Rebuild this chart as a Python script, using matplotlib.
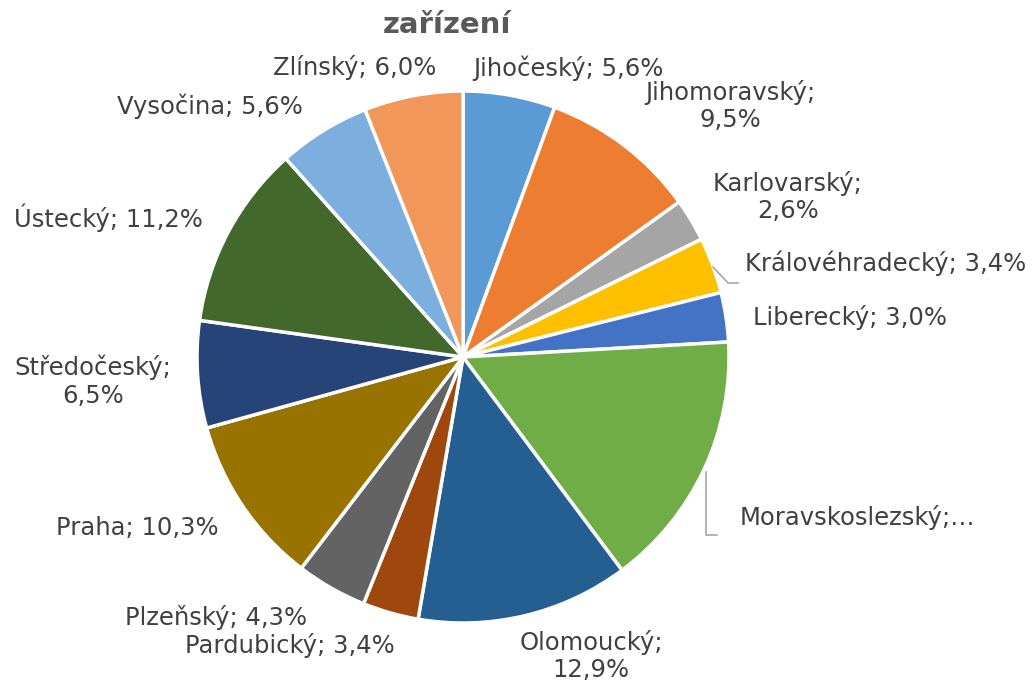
import matplotlib
matplotlib.use("Agg")
import matplotlib.pyplot as plt

regions = ["Jihočeský", "Jihomoravský", "Karlovarský", "Královéhradecký", "Liberecký",
           "Moravskoslezský", "Olomoucký", "Pardubický", "Plzeňský", "Praha",
           "Středočeský", "Ústecký", "Vysočina", "Zlínský"]
shares = [5.6, 9.5, 2.6, 3.4, 3.0, 15.7, 12.9, 3.4, 4.3, 10.3, 6.5, 11.2, 5.6, 6.0]
label_texts = ["Jihočeský; 5,6%", "Jihomoravský;\n9,5%", "Karlovarský;\n2,6%",
               "Královéhradecký; 3,4%", "Liberecký; 3,0%", "Moravskoslezský;…",
               "Olomoucký;\n12,9%", "Pardubický; 3,4%", "Plzeňský; 4,3%",
               "Praha; 10,3%", "Středočeský;\n6,5%", "Ústecký; 11,2%",
               "Vysočina; 5,6%", "Zlínský; 6,0%"]
colors = ["#5B9BD5", "#ED7D31", "#A5A5A5", "#FFC000", "#4472C4", "#70AD47",
          "#255E91", "#9E480E", "#636363", "#997300", "#264478", "#43682B",
          "#7CAFDD", "#F1975A"]
title = "zařízení"

W, H = 1033, 687
# label centre positions in pixel coords (from top-left) - layout only
label_pos = [(568, 68), (730, 106), (788, 197), (886, 263), (850, 317), (857, 518),
             (591, 656), (290, 645), (216, 618), (137, 528), (93, 381), (108, 218),
             (210, 106), (355, 68)]

fig = plt.figure(figsize=(W / 100, H / 100), dpi=100)
ax = fig.add_axes([0, 0, 1, 1])

cx, cy, r = 463, 357, 266
wedges, _ = ax.pie(shares, colors=colors, startangle=90, counterclock=False,
                   center=(cx, H - cy), radius=r,
                   wedgeprops=dict(edgecolor="white", linewidth=2.5))
ax.set_xlim(0, W)
ax.set_ylim(0, H)
ax.set_aspect("equal")
ax.axis("off")

for txt, (x, y) in zip(label_texts, label_pos):
    ax.text(x, H - y, txt, ha="center", va="center", fontsize=17.5, color="#404040",
            family="DejaVu Sans", linespacing=1.2)

# leader lines
ax.plot([713, 728, 738], [H - 267, H - 283, H - 283], color="#A6A6A6", lw=1.2)
ax.plot([706, 706, 717], [H - 472, H - 535, H - 535], color="#A6A6A6", lw=1.2)

ax.text(447, H - 25, title, ha="center", va="center", fontsize=21, fontweight="bold",
        color="#595959", family="DejaVu Sans")

fig.savefig("out.png", dpi=100)
